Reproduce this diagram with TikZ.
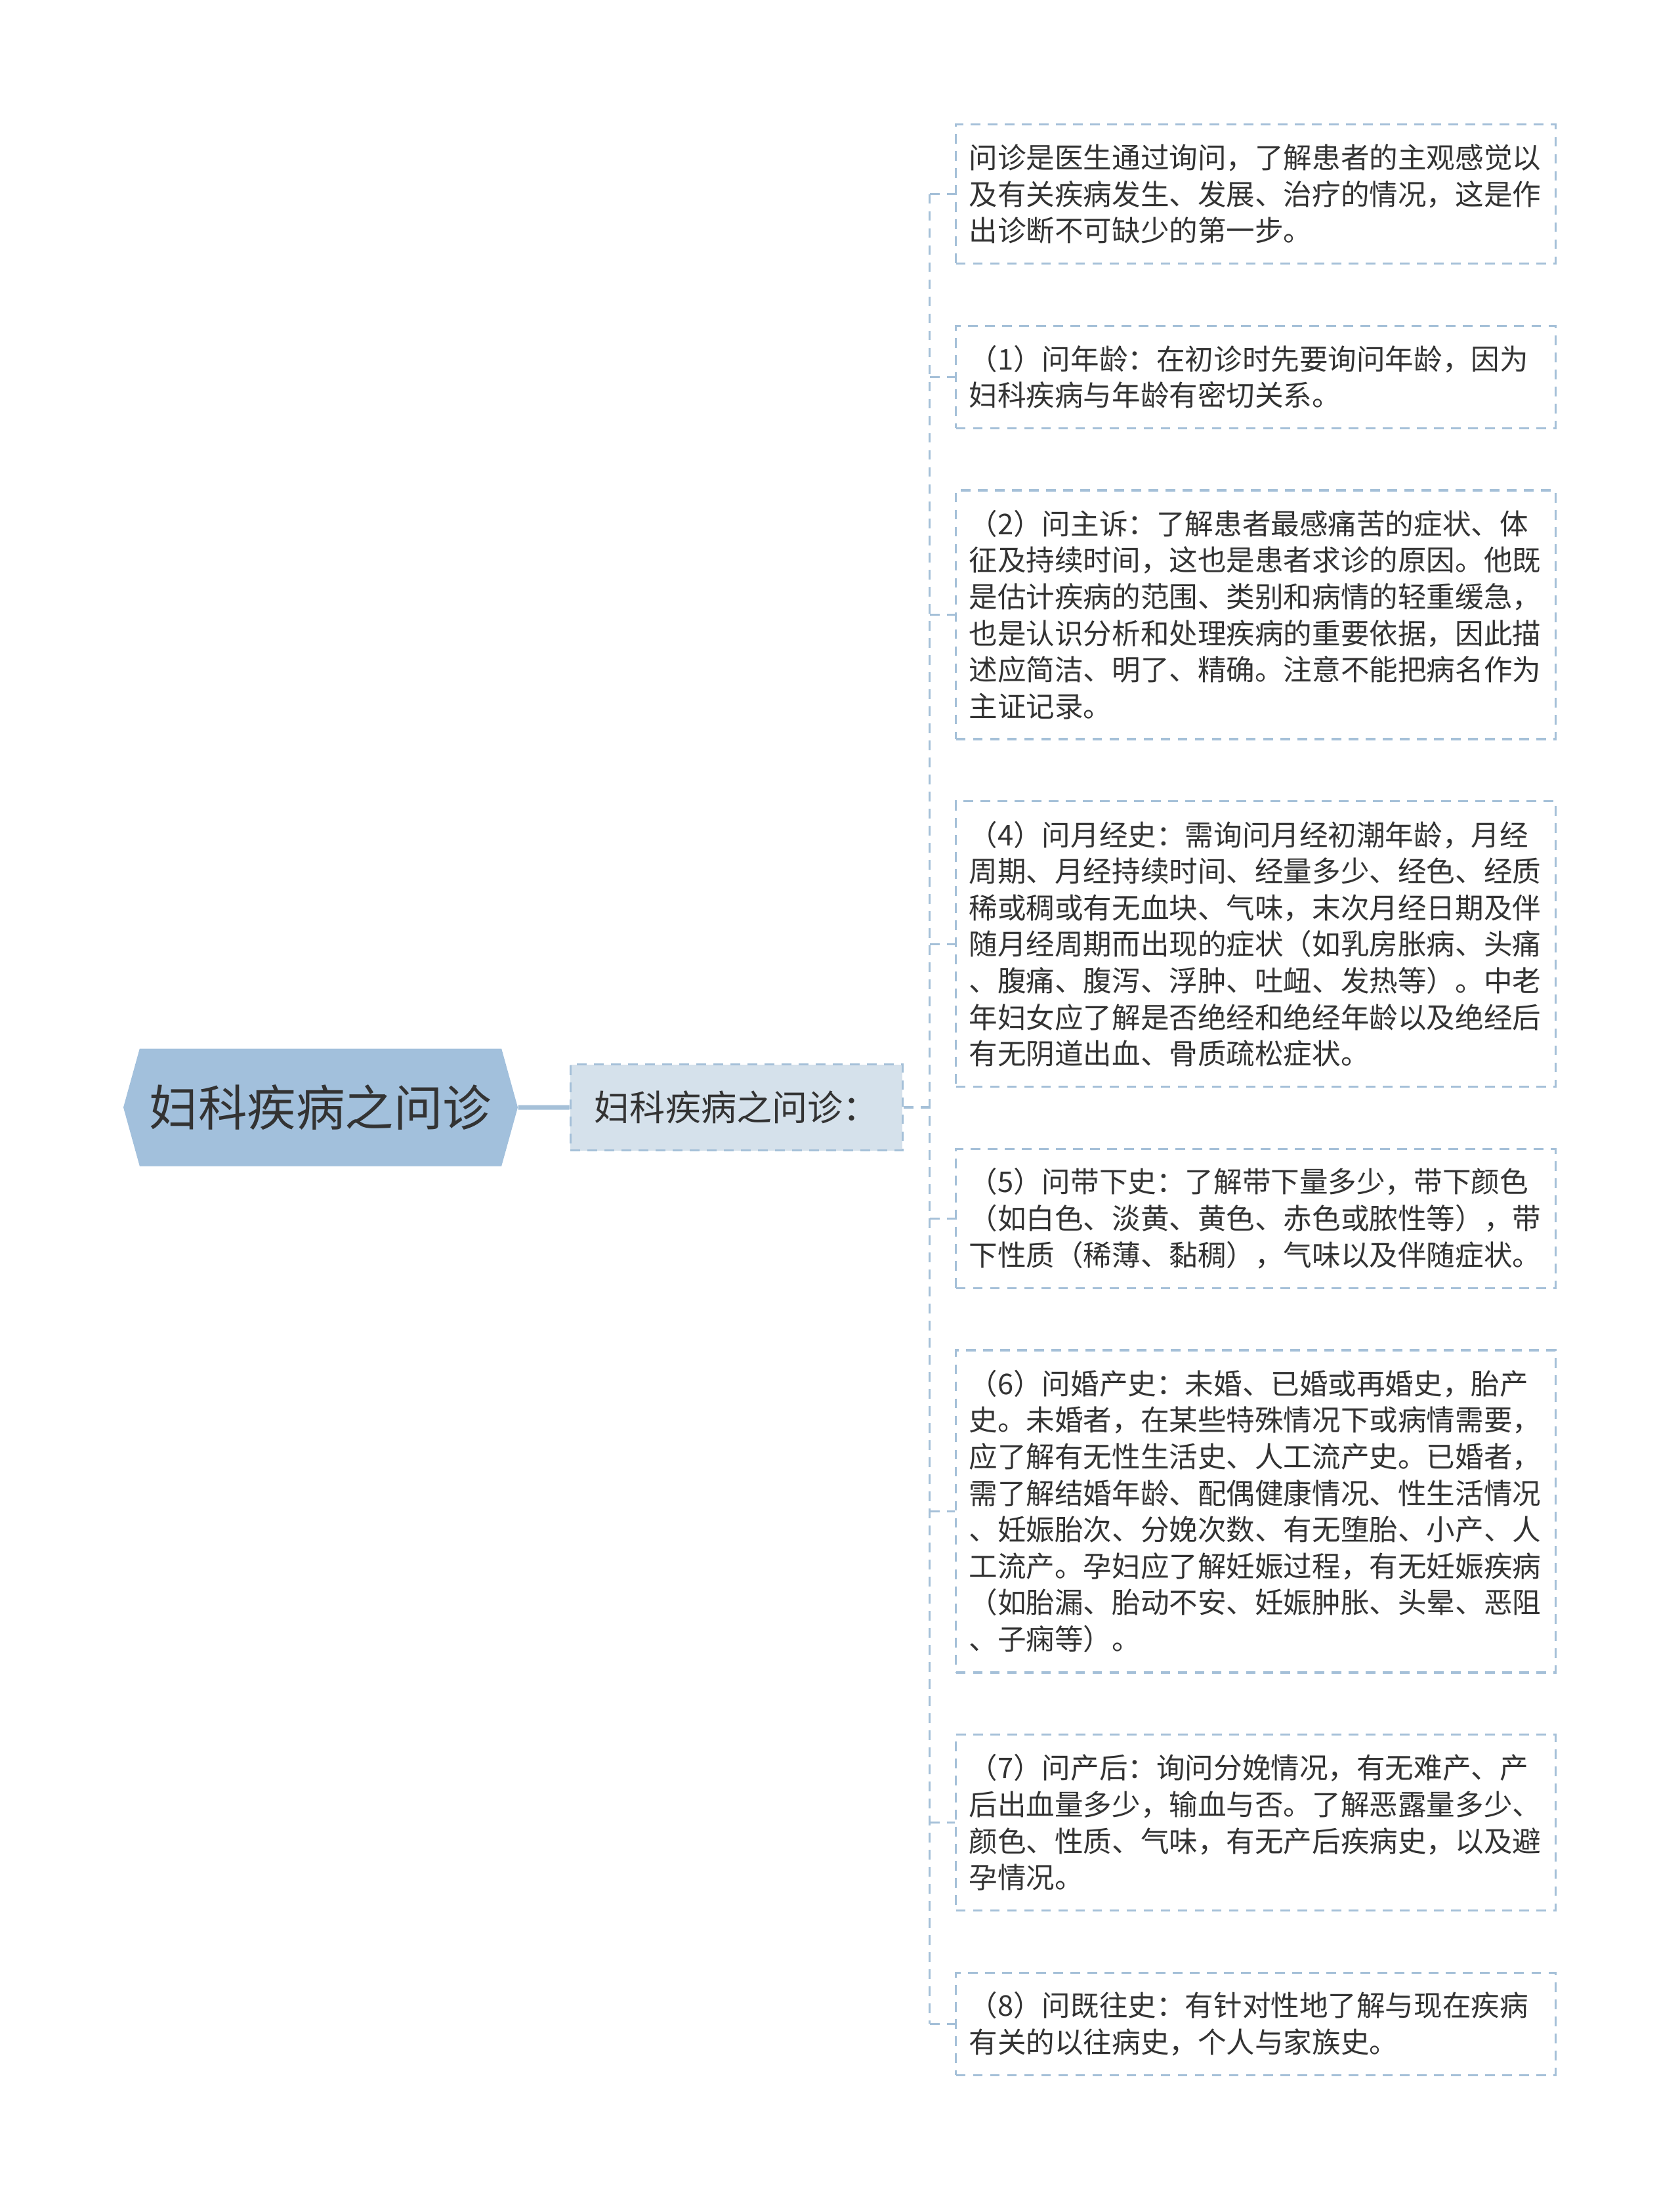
\documentclass[tikz,border=0pt]{standalone}
\usepackage{fontspec}
\setmainfont{Noto Sans CJK SC}
\usetikzlibrary{positioning,shapes.symbols}
\definecolor{rootblue}{HTML}{A2C0DC}
\definecolor{midblue}{HTML}{D5E1EB}
\definecolor{edgeblue}{HTML}{A5C0D8}
\definecolor{inkgray}{HTML}{333333}
\tikzset{
  rootnode/.style={signal, signal to=west and east, signal pointer angle=149,
    fill=rootblue, text=inkgray, minimum width=6.01cm, minimum height=1.79cm,
    inner sep=0pt, font=\fontsize{21.2pt}{25pt}\selectfont},
  midnode/.style={rectangle, fill=midblue, draw=edgeblue, line width=0.9pt,
    dash pattern=on 4.2pt off 3.2pt, minimum width=5.06cm, minimum height=1.31cm,
    text=inkgray, font=\fontsize{15.4pt}{18pt}\selectfont},
  leaf/.style={rectangle, draw=edgeblue, line width=0.9pt, dash pattern=on 4.2pt off 3.2pt,
    text width=8.74cm, inner xsep=0.2cm, inner ysep=0pt, align=left, text=inkgray,
    font=\fontsize{12.4pt}{15.82pt}\selectfont},
  link/.style={draw=edgeblue, line width=0.9pt, dash pattern=on 4.2pt off 3.2pt},
}
\begin{document}
\begin{tikzpicture}
\useasboundingbox (0,0) rectangle (25.6,-33.47);
\node[rootnode] (root) at (4.885,-16.87) {妇科疾病之问诊};
\node[midnode, right=0.78cm of root] (mid) {妇科疾病之问诊：};
\coordinate[right=0.4cm of mid] (fork);
\node[leaf, minimum height=2.12cm, anchor=north west] (l0) at (14.55,-1.88)
  {问诊是医生通过询问，了解患者的主观感觉以\\及有关疾病发生、发展、治疗的情况，这是作\\出诊断不可缺少的第一步。};
\node[leaf, minimum height=1.56cm, below=0.915cm of l0] (l1)
  {（1）问年龄：在初诊时先要询问年龄，因为\\妇科疾病与年龄有密切关系。};
\node[leaf, minimum height=3.79cm, below=0.915cm of l1] (l2)
  {（2）问主诉：了解患者最感痛苦的症状、体\\征及持续时间，这也是患者求诊的原因。他既\\是估计疾病的范围、类别和病情的轻重缓急，\\也是认识分析和处理疾病的重要依据，因此描\\述应简洁、明了、精确。注意不能把病名作为\\主证记录。};
\node[leaf, minimum height=4.35cm, below=0.915cm of l2] (l3)
  {（4）问月经史：需询问月经初潮年龄，月经\\周期、月经持续时间、经量多少、经色、经质\\稀或稠或有无血块、气味，末次月经日期及伴\\随月经周期而出现的症状（如乳房胀病、头痛\\、腹痛、腹泻、浮肿、吐衄、发热等）。中老\\年妇女应了解是否绝经和绝经年龄以及绝经后\\有无阴道出血、骨质疏松症状。};
\node[leaf, minimum height=2.12cm, below=0.915cm of l3] (l4)
  {（5）问带下史：了解带下量多少，带下颜色\\（如白色、淡黄、黄色、赤色或脓性等），带\\下性质（稀薄、黏稠），气味以及伴随症状。};
\node[leaf, minimum height=4.91cm, below=0.915cm of l4] (l5)
  {（6）问婚产史：未婚、已婚或再婚史，胎产\\史。未婚者，在某些特殊情况下或病情需要，\\应了解有无性生活史、人工流产史。已婚者，\\需了解结婚年龄、配偶健康情况、性生活情况\\、妊娠胎次、分娩次数、有无堕胎、小产、人\\工流产。孕妇应了解妊娠过程，有无妊娠疾病\\（如胎漏、胎动不安、妊娠肿胀、头晕、恶阻\\、子痫等）。};
\node[leaf, minimum height=2.68cm, below=0.915cm of l5] (l6)
  {（7）问产后：询问分娩情况，有无难产、产\\后出血量多少，输血与否。了解恶露量多少、\\颜色、性质、气味，有无产后疾病史，以及避\\孕情况。};
\node[leaf, minimum height=1.56cm, below=0.915cm of l6] (l7)
  {（8）问既往史：有针对性地了解与现在疾病\\有关的以往病史，个人与家族史。};
\draw[edgeblue, line width=2pt] (root) -- (mid);
\draw[link] (mid) -- (fork);
\draw[link] (fork |- l0.west) -- (fork |- l7.west);
\foreach \n in {0,...,7}
  \draw[link] (fork |- l\n.west) -- (l\n.west);
\end{tikzpicture}
\end{document}
